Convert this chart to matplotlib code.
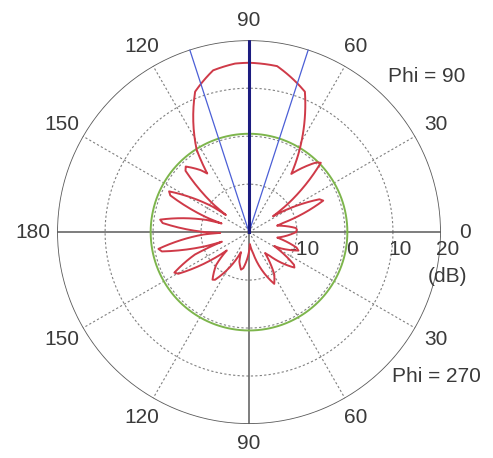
import numpy as np
import matplotlib
matplotlib.use("Agg")
import matplotlib.pyplot as plt

# Radiation pattern: angle (deg) and gain (dB), one row per lobe
theta_deg = [
    0, 3, 5, 7, 9.5, 13,
    15, 17, 19, 21, 23, 25, 27, 29, 31, 33.5,
    36, 38, 40, 42, 44, 46, 48, 50, 52, 54,
    55.5, 56.7, 58.4, 60.6, 63.1, 65.85, 68.3, 70.7, 73.6, 76.8, 80.4, 84.6, 90,
    94.75, 98.9, 102.5, 105.8, 108.6, 111.0, 113.4, 116.1, 118.6, 120.5, 122.5, 123.5, 125.5,
    128, 130, 132, 134, 136, 138, 140, 142, 143.5,
    145, 147, 149, 151, 153, 155, 157, 159, 161, 162.5,
    164, 166, 168, 170, 172, 174, 176, 178, 180, 181.5,
    183, 184.5, 186.5, 188.5, 190.5, 192.5, 194.5, 196.5, 198, 199.5,
    201, 202.5, 204.5, 206.5, 208.5, 210.5, 212.5, 214.5, 216.5, 219.5,
    222, 225, 228, 230.5, 232.5, 234.5, 237, 240, 244,
    248, 252, 255, 258, 261, 264, 268, 274,
    281, 285, 288, 291, 294, 296, 298.5, 301, 304, 307.5,
    311, 314, 317, 320, 322, 324, 326, 328.5, 331,
    333, 335, 337, 339.5, 342, 344, 346, 349,
    352, 355, 358, 360,
]
gain_db = [
    -10.2, -10, -10.2, -10.9, -12.2, -14,
    -12.7, -8.7, -5.4, -3.8, -3.2, -3.8, -5.4, -8.7, -12.5, -14,
    -10, -4.7, -1.4, 0.2, 0.8, 0.2, -1.4, -3.5, -4.8, -5,
    -2.2, 1.25, 3.25, 5.17, 7.33, 9.8, 11.5, 12.8, 13.86, 14.63, 15.09, 15.28, 15.3,
    15.25, 15.03, 14.54, 13.75, 12.67, 11.35, 9.63, 7.14, 4.98, 2.97, 0.27, -2.6, -5,
    -3.6, -2.2, -1.4, -1, -1.6, -3.2, -6.5, -10.5, -14,
    -10.8, -6.8, -3.5, -1.9, -1.3, -1.9, -3.5, -6.8, -10.8, -14,
    -10.8, -6.8, -3.5, -1.9, -1.3, -1.9, -3.5, -6.8, -10.8, -14,
    -10.5, -6.3, -3, -1.4, -0.8, -1.4, -3, -6.3, -10.5, -14,
    -10.8, -7.8, -4.5, -2.9, -2.3, -2.9, -4.5, -7.8, -11, -14,
    -12.8, -10.3, -8.4, -7.7, -7.5, -7.8, -9, -11.5, -15,
    -15.5, -13.5, -12.4, -12, -12.4, -13.8, -16, -17.5,
    -15.5, -12.5, -10.3, -8.8, -8.1, -8, -8.4, -9.8, -12.3, -14.5,
    -13.5, -11.5, -9.4, -8.3, -8, -8.4, -9.6, -12, -14,
    -12.5, -10.8, -9.6, -9, -9.6, -10.8, -12.5, -14,
    -13, -11.6, -10.6, -10.2,
]

# Reference level circle and beam markers
ref_level_db = 0.5
beam_peak_deg = 90
beam_edges_deg = [72, 108]

# Grid and labels
r_min, r_max = -20, 20
ring_values = [-10, 0, 10]
ring_labels = ["-10", "0", "10", "20"]
ring_label_values = [-10, 0, 10, 20]
angle_ticks = [0, 30, 60, 90, 120, 150, 180, 210, 240, 270, 300, 330]
angle_labels = ["0", "30", "60", "90", "120", "150", "180", "150", "120", "90", "60", "30"]

plt.rcParams["font.family"] = ["Liberation Sans", "DejaVu Sans"]
text_color = "#3a3a3a"
fs = 15

fig = plt.figure(figsize=(4.93, 4.58), dpi=100)
ax = fig.add_axes([0.1156, 0.0742, 0.779, 0.838], projection="polar")
ax.set_ylim(r_min, r_max)
ax.set_axis_off()

tt = np.linspace(0, 2 * np.pi, 721)

# dotted rings
for rv in ring_values:
    ax.plot(tt, np.full_like(tt, rv), color="#808080", lw=0.8, ls=(0, (2, 2)), zorder=1)
# outer ring
ax.plot(tt, np.full_like(tt, r_max), color="#5a5a5a", lw=1.2, zorder=2)

# spokes
for a in range(0, 360, 30):
    th = np.deg2rad(a)
    if a % 90 == 0:
        ax.plot([th, th], [r_min, r_max], color="#5a5a5a", lw=1.1, zorder=2)
    else:
        ax.plot([th, th], [r_min, r_max], color="#808080", lw=0.8, ls=(0, (2, 2)), zorder=1)

# reference level circle
ax.plot(tt, np.full_like(tt, ref_level_db), color="#7db54c", lw=1.4, zorder=3)

# pattern, segments follow polar arcs between samples
(pattern_line,) = ax.plot(np.deg2rad(theta_deg), gain_db, color="#cf3a48", lw=1.4, zorder=4)
pattern_line.get_path()._interpolation_steps = 16

# beam markers
for b in beam_edges_deg:
    ax.plot([np.deg2rad(b)] * 2, [r_min, r_max], color="#4b5fd6", lw=0.9, zorder=5)
ax.plot([np.deg2rad(beam_peak_deg)] * 2, [r_min, r_max], color="#1c1c80", lw=2.2, zorder=6)

# angle labels
for a, lab in zip(angle_ticks, angle_labels):
    th = np.deg2rad(a)
    rl = 24.1 + 1.0 * abs(np.cos(th))
    ax.text(th, rl, lab, ha="center", va="center", fontsize=fs, color=text_color,
            clip_on=False)

# radial labels
for rv, lab in zip(ring_label_values, ring_labels):
    ax.annotate(lab, xy=(0, rv), xytext=(7, -17), textcoords="offset pixels",
                ha="center", va="center", fontsize=fs, color=text_color,
                annotation_clip=False)
ax.annotate("(dB)", xy=(0, r_max), xytext=(7, -44), textcoords="offset pixels",
            ha="center", va="center", fontsize=fs, color=text_color, annotation_clip=False)

fig.text(0.866, 0.834, "Phi = 90", ha="center", va="center", fontsize=fs, color=text_color)
fig.text(0.886, 0.177, "Phi = 270", ha="center", va="center", fontsize=fs, color=text_color)

fig.savefig("out.png", dpi=100)
